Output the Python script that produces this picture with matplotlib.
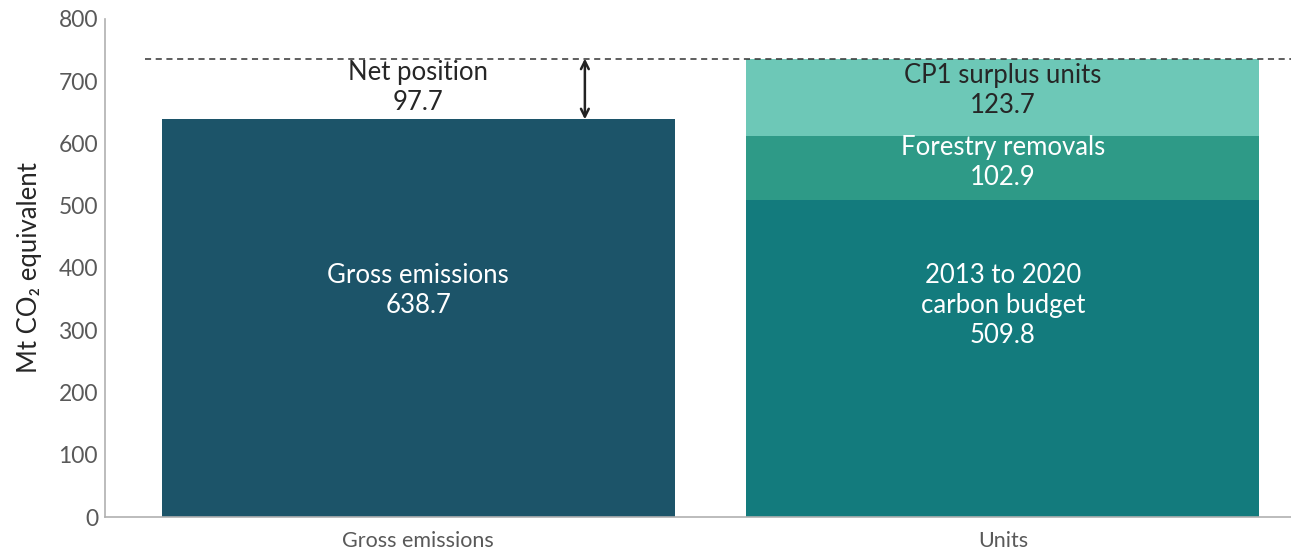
import matplotlib.pyplot as plt

plt.rcParams['font.family'] = ['Lato', 'DejaVu Sans']

categories = ['Gross emissions', 'Units']
gross = 638.7
budget = 509.8
forestry = 102.9
cp1 = 123.7
units_total = budget + forestry + cp1
net_position = round(units_total - gross, 1)

c_gross = '#1c5469'
c_budget = '#137b7d'
c_forestry = '#2e9a87'
c_cp1 = '#6dc8b7'

fig = plt.figure(figsize=(12.91, 5.57), dpi=100)
ax = fig.add_axes([0.0813, 0.0718, 0.9187, 0.8942])

w = 0.878
ax.bar(0, gross, width=w, color=c_gross)
ax.bar(1, budget, width=w, color=c_budget)
ax.bar(1, forestry, width=w, bottom=budget, color=c_forestry)
ax.bar(1, cp1, width=w, bottom=budget + forestry, color=c_cp1)

# dashed line at units total and the net position arrow
ax.plot([-0.468, 1.493], [units_total, units_total], ls=(0, (4, 3)), color='#333333', lw=1.1)
ax.annotate('', xy=(0.285, units_total), xytext=(0.285, gross),
            arrowprops=dict(arrowstyle='<->', color='#222222', lw=1.8, mutation_scale=14,
                            shrinkA=0, shrinkB=0))

fs = 18.5
ls = 1.25
ax.text(0, (gross + units_total) / 2 + 3, 'Net position\n%.1f' % net_position, ha='center', va='center',
        fontsize=fs, color='#262626', linespacing=ls)
ax.text(0, gross * 0.57, 'Gross emissions\n%.1f' % gross, ha='center', va='center',
        fontsize=fs, color='white', linespacing=ls)
ax.text(1, budget * 0.665, '2013 to 2020\ncarbon budget\n%.1f' % budget, ha='center', va='center',
        fontsize=fs, color='white', linespacing=ls)
ax.text(1, budget + forestry / 2 + 8, 'Forestry removals\n%.1f' % forestry, ha='center', va='center',
        fontsize=fs, color='white', linespacing=ls)
ax.text(1, budget + forestry + cp1 / 2 + 10, 'CP1 surplus units\n%.1f' % cp1, ha='center', va='center',
        fontsize=fs, color='#262626', linespacing=ls)

ax.set_xlim(-0.536, 1.493)
ax.set_ylim(0, 800)
ax.set_yticks(range(0, 801, 100))
ax.set_xticks([0, 1])
ax.set_xticklabels(categories)
ax.tick_params(axis='both', length=0, colors='#595959')
ax.tick_params(axis='y', labelsize=16.5, pad=5)
ax.tick_params(axis='x', labelsize=15.5, pad=10)
ax.set_ylabel('Mt CO\u2082 equivalent', fontsize=18.5, color='#262626', labelpad=12)

for s in ['top', 'right']:
    ax.spines[s].set_visible(False)
for s in ['left', 'bottom']:
    ax.spines[s].set_color('#b0b0b0')
    ax.spines[s].set_linewidth(1.2)

fig.savefig('out.png', dpi=100)
